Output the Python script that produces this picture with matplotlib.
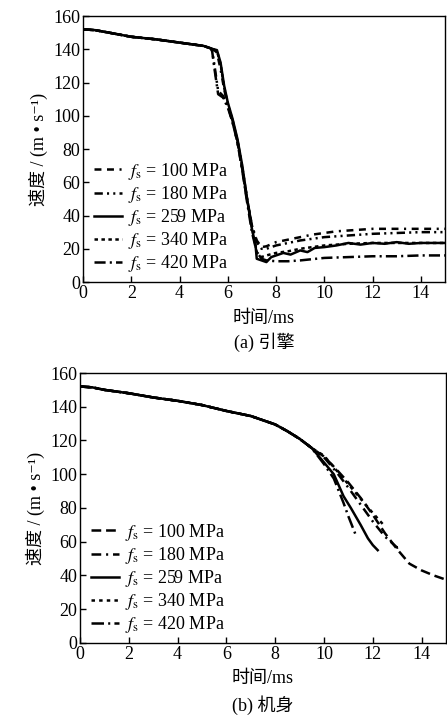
"""Velocity-time curves of engine and fuselage for five shear strengths f_s."""

import matplotlib

matplotlib.use("Agg")
import matplotlib.pyplot as plt

plt.rcParams["font.family"] = ["Liberation Serif", "Noto Sans CJK SC", "DejaVu Serif"]
plt.rcParams["mathtext.fontset"] = "stix"
plt.rcParams["font.size"] = 13
plt.rcParams["lines.scale_dashes"] = False

LABELS = ["100", "180", "259", "340", "420"]

# (a) engine: shared pre-impact part, then per-strength curves
ENG_T0 = [0.0, 0.5, 1.0, 2.0, 3.0, 4.0, 5.0, 5.3]
ENG_V0 = [152.0, 151.5, 150.2, 147.5, 146.0, 144.0, 142.0, 140.5]

ENG_T_100 = [5.4, 5.55, 5.7, 5.85, 6.0, 6.2, 6.4, 6.6, 6.8, 7.0, 7.2, 7.4, 7.6, 8.0, 8.5, 9.0,
             9.5, 10.0, 10.5, 11.0, 12.0, 13.0, 14.0, 15.0]
ENG_V_100 = [140.0, 138.0, 128.0, 116.0, 106.0, 96.0, 84.0, 68.0, 50.0, 34.0, 25.0, 21.0, 21.5,
             24.0, 25.5, 27.0, 28.5, 29.5, 30.5, 31.0, 32.0, 32.0, 32.0, 32.0]
ENG_T_180 = [5.35, 5.45, 5.6, 5.8, 6.0, 6.2, 6.4, 6.6, 6.8, 7.0, 7.2, 7.4, 7.6, 8.0, 8.5, 9.0,
             10.0, 11.0, 12.0, 13.0, 14.0, 15.0]
ENG_V_180 = [139.0, 130.0, 115.0, 112.0, 106.0, 97.0, 85.0, 68.0, 49.0, 34.0, 24.0, 20.0, 20.0,
             22.0, 23.5, 25.0, 27.0, 28.0, 29.0, 29.5, 30.0, 30.0]
ENG_T_259 = [5.4, 5.55, 5.7, 5.85, 6.0, 6.2, 6.4, 6.6, 6.8, 7.0, 7.15, 7.2, 7.4, 7.6, 7.8, 8.0,
             8.3, 8.6, 9.0, 9.3, 9.6, 10.0, 10.5, 11.0, 11.5, 12.0, 12.5, 13.0, 13.5, 14.0,
             14.5, 15.0]
ENG_V_259 = [140.0, 139.5, 132.0, 118.0, 108.0, 98.0, 86.0, 70.0, 50.0, 32.0, 22.0, 14.0, 13.0,
             12.0, 15.0, 16.0, 17.5, 16.5, 19.0, 18.0, 20.5, 21.0, 22.0, 23.5, 22.5, 23.5,
             23.0, 24.0, 23.0, 23.5, 23.5, 23.5]
ENG_T_340 = [5.4, 5.55, 5.7, 5.85, 6.0, 6.2, 6.4, 6.6, 6.8, 7.0, 7.2, 7.4, 7.6, 8.0, 8.5, 9.0,
             10.0, 11.0, 12.0, 13.0, 14.0, 15.0]
ENG_V_340 = [140.0, 139.0, 131.0, 117.0, 107.0, 97.0, 85.0, 69.0, 50.0, 33.0, 18.0, 15.0, 16.0,
             17.5, 18.5, 20.0, 22.0, 23.0, 23.5, 23.5, 23.5, 23.5]
ENG_T_420 = [5.35, 5.45, 5.6, 5.8, 6.0, 6.2, 6.4, 6.6, 6.8, 7.0, 7.2, 7.4, 7.6, 8.0, 8.5, 9.0,
             10.0, 11.0, 12.0, 13.0, 14.0, 15.0]
ENG_V_420 = [139.0, 128.0, 113.0, 111.0, 105.0, 96.0, 84.0, 67.0, 48.0, 30.0, 18.0, 14.0, 13.0,
             12.5, 12.5, 13.0, 14.5, 15.0, 15.5, 15.5, 16.0, 16.0]

# (b) fuselage: shared part, then per-strength curves
BODY_T0 = [0.0, 0.5, 1.0, 2.0, 3.0, 4.0, 5.0, 6.0, 7.0, 8.0, 8.5, 9.0, 9.5]
BODY_V0 = [152.0, 151.5, 150.0, 148.0, 145.5, 143.5, 141.0, 137.5, 134.5, 129.5, 125.5, 121.0,
           115.5]

BODY_T_100 = [10.0, 10.5, 11.0, 11.5, 12.0, 12.5, 13.0, 13.5, 14.0, 14.5, 15.0]
BODY_V_100 = [110.5, 103.0, 95.0, 86.0, 76.0, 65.0, 55.5, 47.0, 43.0, 40.0, 37.5]
BODY_T_180 = [10.0, 10.5, 11.0, 11.5, 12.0, 12.5, 13.0, 13.2]
BODY_V_180 = [110.0, 101.5, 92.0, 82.0, 72.0, 63.0, 56.5, 57.0]
BODY_T_259 = [10.0, 10.4, 10.8, 11.1, 11.5, 11.8, 12.0, 12.2]
BODY_V_259 = [107.0, 100.0, 87.0, 80.0, 70.0, 62.0, 58.0, 55.0]
BODY_T_340 = [10.0, 10.5, 11.0, 11.5, 12.0, 12.5]
BODY_V_340 = [111.0, 102.5, 94.0, 85.5, 77.0, 69.0]
BODY_T_420 = [10.0, 10.4, 10.8, 11.0, 11.3]
BODY_V_420 = [106.0, 97.5, 83.0, 75.0, 64.0]

ENG_STYLES = [(0, (5, 4, 5, 4, 1.5, 4)), (0, (6, 3, 1.5, 3, 1.5, 3)), "-",
              (0, (2.5, 2.5)), (0, (8, 3, 1.5, 3))]
BODY_STYLES = [(0, (7, 3.5)), (0, (7, 3.5, 1.5, 3.5)), "-",
               (0, (2.5, 3)), (0, (9, 3, 1.5, 3))]

fig = plt.figure(figsize=(4.47, 7.18), dpi=100)
ax_a = fig.add_axes([0.1857, 0.6072, 0.8098, 0.3705])
ax_b = fig.add_axes([0.1790, 0.1045, 0.8188, 0.3760])

eng = [(ENG_T_100, ENG_V_100), (ENG_T_180, ENG_V_180), (ENG_T_259, ENG_V_259),
       (ENG_T_340, ENG_V_340), (ENG_T_420, ENG_V_420)]
body = [(BODY_T_100, BODY_V_100), (BODY_T_180, BODY_V_180), (BODY_T_259, BODY_V_259),
        (BODY_T_340, BODY_V_340), (BODY_T_420, BODY_V_420)]

for ax, series, styles, t0, v0 in [(ax_a, eng, ENG_STYLES, ENG_T0, ENG_V0),
                                   (ax_b, body, BODY_STYLES, BODY_T0, BODY_V0)]:
    for (t, v), ls, lab in zip(series, styles, LABELS):
        ax.plot(t0 + t, v0 + v, color="black", lw=1.8, linestyle=ls,
                label=r"$f_{\mathrm{s}}$" + f" = {lab} MPa")
    ax.set_xlim(0, 15)
    ax.set_ylim(0, 160)
    ax.set_xticks(range(0, 16, 2))
    ax.set_yticks(range(0, 161, 20))
    ax.tick_params(direction="in", length=4, width=1.0, pad=2, labelsize=13)
    for s in ax.spines.values():
        s.set_linewidth(1.0)
    ax.set_ylabel("速度 / (m • s⁻¹)", fontsize=13, labelpad=4)
    ax.legend(loc="lower left", bbox_to_anchor=(0.0, -0.012), frameon=False,
              handlelength=1.55, handletextpad=0.35, labelspacing=0.12,
              borderaxespad=0.2, fontsize=13)

fig.text(0.5906, 1 - 318 / 718, "时间/ms", ha="center", va="center", fontsize=13)
fig.text(0.5906, 1 - 342 / 718, "(a) 引擎", ha="center", va="center", fontsize=13)
fig.text(0.5880, 1 - 679 / 718, "时间/ms", ha="center", va="center", fontsize=13)
fig.text(0.5880, 1 - 705 / 718, "(b) 机身", ha="center", va="center", fontsize=13)

fig.savefig("out.png", dpi=100)
